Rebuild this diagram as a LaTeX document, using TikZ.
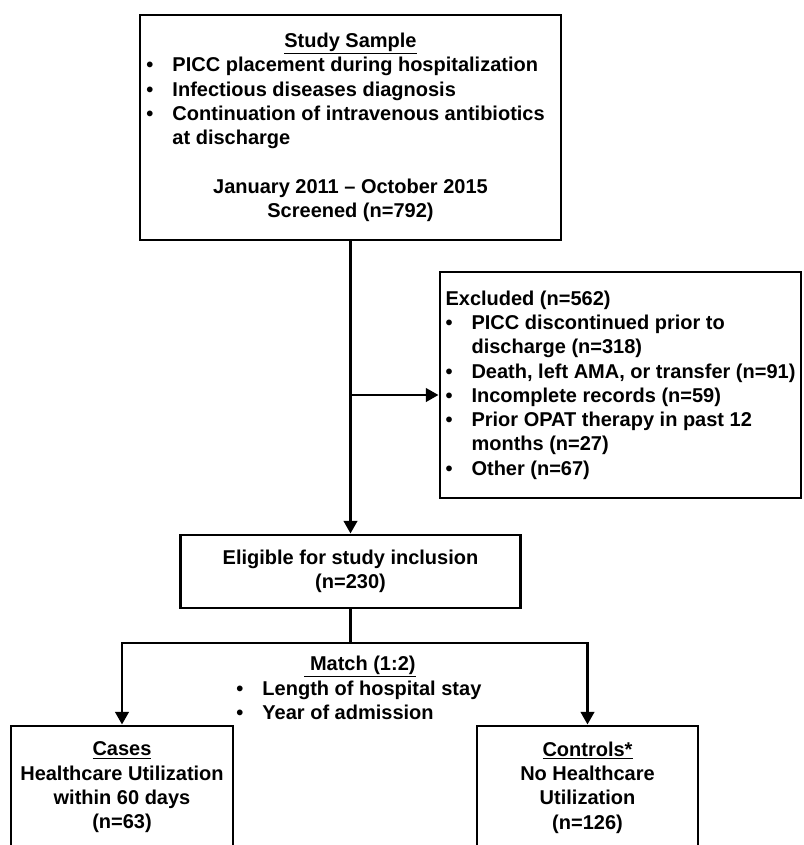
\documentclass[tikz,border=0pt]{standalone}
\usepackage{fontspec}
\setmainfont{Liberation Sans}
\usetikzlibrary{arrows.meta}
\newcommand{\bul}{\makebox[0.78cm][l]{\textbullet}}

\begin{document}
\begin{tikzpicture}[x=0.03cm,y=-0.03cm,
  font=\fontsize{17.07}{20.74}\selectfont\bfseries,
  box/.style={draw,line width=2.5pt,align=center,inner sep=0pt},
  line/.style={line width=2.5pt},
  arr/.style={line width=2.5pt,-{Triangle[length=0.38cm,width=0.4cm]}}]
\useasboundingbox (0,0) rectangle (803,845);
\node[box,minimum width=12.63cm,minimum height=6.75cm] (sample) at (350.5,127.5)
  {\underline{Study Sample}\\
   \makebox[12.24cm][l]{\bul PICC placement during hospitalization}\\
   \makebox[12.24cm][l]{\bul Infectious diseases diagnosis}\\
   \makebox[12.24cm][l]{\bul Continuation of intravenous antibiotics}\\
   \makebox[12.24cm][l]{\hspace{0.78cm}at discharge}\\[0.73cm]
   January 2011 -- October 2015\\
   Screened (n=792)};
\node[box,align=left,minimum width=10.83cm,minimum height=6.78cm] (excluded) at (620.5,385)
  {Excluded (n=562)\\
   \bul PICC discontinued prior to\\
   \hspace*{0.78cm}discharge (n=318)\\
   \bul Death, left AMA, or transfer (n=91)\\
   \bul Incomplete records (n=59)\\
   \bul Prior OPAT therapy in past 12\\
   \hspace*{0.78cm}months (n=27)\\
   \bul Other (n=67)};
\node[box,minimum width=10.2cm,minimum height=2.19cm] (eligible) at (350.5,571.5)
  {Eligible for study inclusion\\(n=230)};
\node[align=center] (match) at (360,688)
  {\underline{\ Match (1:2)}\\
   \makebox[7.41cm][l]{\bul Length of hospital stay}\\
   \makebox[7.41cm][l]{\bul Year of admission}};
\node[box,minimum width=6.66cm,minimum height=3.69cm] (cases) at (122,787.5)
  {\underline{Cases}\\Healthcare Utilization\\within 60 days\\(n=63)};
\node[box,minimum width=6.63cm,minimum height=3.69cm] (controls) at (587.5,787.5)
  {\underline{Controls*}\\No Healthcare\\Utilization\\(n=126)};

\draw[arr] (sample) -- (eligible);
\coordinate (split) at (350.5,395);
\draw[arr] (split) -- (split -| excluded.west);
\coordinate (fork) at (350.5,643);
\draw[line] (eligible) -- (fork);
\draw[arr] (fork) -| (cases);
\draw[arr] (fork) -| (controls);
\end{tikzpicture}
\end{document}
